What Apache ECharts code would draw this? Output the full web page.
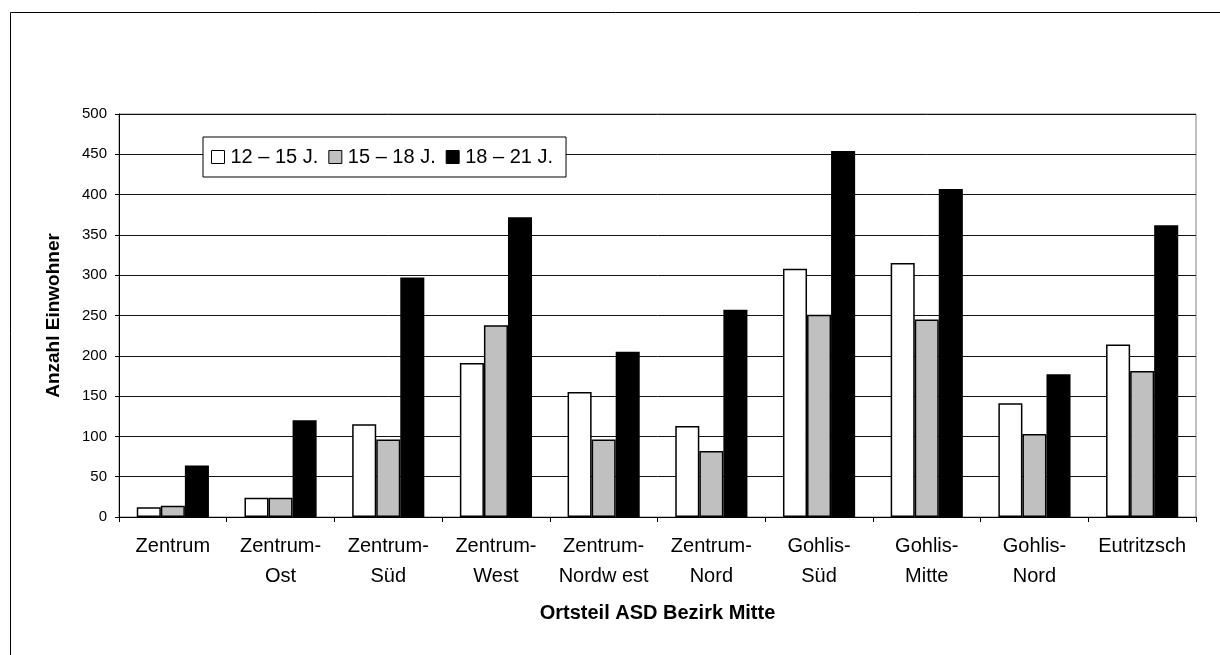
<!DOCTYPE html>
<html>
<head>
<meta charset="utf-8">
<script src="https://cdn.jsdelivr.net/npm/echarts@6/dist/echarts.min.js"></script>
<style>
html,body{margin:0;padding:0;background:#fff;}
#c{width:1220px;height:655px;}
</style>
</head>
<body>
<div id="c"></div>
<script>
const categories = ['Zentrum', 'Zentrum-\nOst', 'Zentrum-\nSüd', 'Zentrum-\nWest', 'Zentrum-\nNordw est', 'Zentrum-\nNord', 'Gohlis-\nSüd', 'Gohlis-\nMitte', 'Gohlis-\nNord', 'Eutritzsch'];
const seriesNames = ['12 – 15 J.', '15 – 18 J.', '18 – 21 J.'];
const age12to15 = [12, 24, 115, 191, 155, 113, 308, 315, 141, 214];
const age15to18 = [14, 24, 96, 238, 96, 82, 251, 245, 103, 181];
const age18to21 = [64, 120, 297, 372, 205, 257, 454, 407, 177, 362];
const yTicks = [0, 50, 100, 150, 200, 250, 300, 350, 400, 450, 500];

const fills = ['#FFFFFF', '#C0C0C0', '#000000'];
const values = [age12to15, age15to18, age18to21];
const font = 'Liberation Sans, Arial, sans-serif';

const chart = echarts.init(document.getElementById('c'), null, {renderer: 'canvas'});
chart.setOption({
  backgroundColor: '#fff',
  animation: false,
  graphic: [{
    type: 'polyline',
    shape: {points: [[10.5, 655], [10.5, 12.5], [1220, 12.5]]},
    style: {stroke: '#000', lineWidth: 1, fill: null},
    silent: true
  }],
  grid: {left: 119, right: 24, top: 114, bottom: 138, show: true, borderColor: '#808080', borderWidth: 1, containLabel: false},
  legend: {
    left: 203, top: 137,
    orient: 'horizontal',
    backgroundColor: '#fff',
    borderColor: '#000', borderWidth: 1,
    padding: [10, 13, 10, 8],
    itemGap: 10,
    itemWidth: 13, itemHeight: 13,
    icon: 'rect',
    textStyle: {fontFamily: font, fontSize: 20, color: '#000', padding: [0, 0, 0, 1]},
    data: seriesNames.map((n, i) => ({name: n, itemStyle: {color: fills[i], borderColor: '#000', borderWidth: 1}}))
  },
  xAxis: {
    type: 'category',
    data: categories,
    name: 'Ortsteil ASD Bezirk Mitte',
    nameLocation: 'middle',
    nameGap: 86,
    nameTextStyle: {fontFamily: font, fontSize: 20, fontWeight: 'bold', color: '#000'},
    axisLine: {lineStyle: {color: '#000', width: 1}},
    axisTick: {show: true, length: 5, lineStyle: {color: '#000'}},
    axisLabel: {fontFamily: font, fontSize: 20, color: '#000', lineHeight: 30, margin: 14, interval: 0},
    splitLine: {show: false}
  },
  yAxis: {
    type: 'value',
    min: 0, max: 500, interval: 50,
    name: 'Anzahl Einwohner',
    nameLocation: 'middle',
    nameGap: 56,
    nameTextStyle: {fontFamily: font, fontSize: 19, fontWeight: 'bold', color: '#000'},
    axisLine: {show: true, lineStyle: {color: '#000', width: 1}},
    axisTick: {show: true, length: 4, lineStyle: {color: '#000'}},
    axisLabel: {fontFamily: font, fontSize: 15, color: '#000', margin: 12,
      formatter: v => yTicks.includes(v) ? String(v) : ''},
    splitLine: {show: true, lineStyle: {color: '#111', width: 1}}
  },
  series: values.map((d, i) => ({
    name: seriesNames[i],
    type: 'bar',
    data: d,
    barGap: '0%',
    barCategoryGap: '33%',
    itemStyle: {color: fills[i], borderColor: '#000', borderWidth: 1.5},
    emphasis: {disabled: true}
  }))
});
</script>
</body>
</html>
